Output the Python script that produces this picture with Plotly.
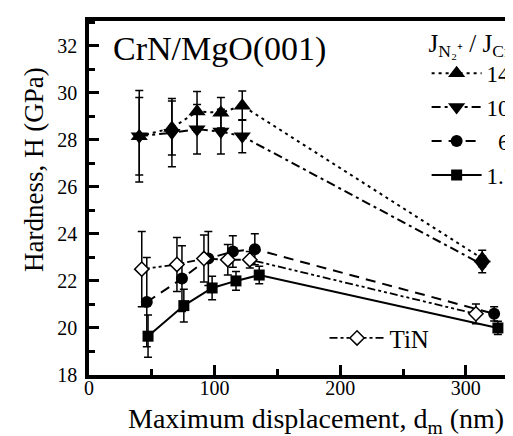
import plotly.graph_objects as go

# ---- data ----
x14 = [40, 66, 86, 105, 122, 313]
y14 = [28.15, 28.5, 29.2, 29.15, 29.45, 22.95]
e14 = [1.95, 1.15, 0.85, 0.65, 0.62, 0.35]

x10 = [40, 66, 86, 105, 122, 313]
y10 = [28.15, 28.3, 28.45, 28.35, 28.15, 22.7]
e10 = [1.65, 1.45, 1.05, 0.95, 0.7, 0.35]

x6 = [46, 74, 95, 114.5, 132, 322.5]
y6 = [21.1, 22.1, 22.95, 23.25, 23.35, 20.6]
e6 = [1.9, 1.4, 1.15, 0.67, 0.66, 0.3]

x17 = [47, 75.5, 98, 117, 135.5, 325.5]
y17 = [19.65, 20.95, 21.7, 22.0, 22.25, 20.0]
e17 = [0.9, 0.7, 0.5, 0.4, 0.37, 0.28]

xTiN = [42, 70, 91.5, 110.5, 128, 308]
yTiN = [22.5, 22.7, 22.95, 22.9, 22.9, 20.6]
eTiN = [1.6, 1.15, 1.0, 0.65, 0.35, 0.42]

names = ["14", "10", "\u20076", "1.7"]
x_ticks = [0, 100, 200, 300]
y_ticks = [18, 20, 22, 24, 26, 28, 30, 32]

FONT = "Liberation Serif, Times New Roman, serif"

def err(v):
    return dict(type="data", array=v, visible=True, color="black", thickness=1.5, width=4)

fig = go.Figure()
fig.add_trace(go.Scatter(x=x14, y=y14, error_y=err(e14), mode="lines+markers", name=names[0],
                         legendgroup="a", legend="legend",
                         line=dict(color="black", width=2, dash="3px,4px"),
                         marker=dict(symbol="triangle-up", size=15, color="black")))
fig.add_trace(go.Scatter(x=x10, y=y10, error_y=err(e10), mode="lines+markers", name=names[1],
                         legendgroup="b", legend="legend",
                         line=dict(color="black", width=2, dash="9px,4px,3px,4px"),
                         marker=dict(symbol="triangle-down", size=15, color="black")))
fig.add_trace(go.Scatter(x=x6, y=y6, error_y=err(e6), mode="lines+markers", name=names[2],
                         legendgroup="c", legend="legend",
                         line=dict(color="black", width=2, dash="10px,7px"),
                         marker=dict(symbol="circle", size=12, color="black")))
fig.add_trace(go.Scatter(x=x17, y=y17, error_y=err(e17), mode="lines+markers", name=names[3],
                         legendgroup="d", legend="legend",
                         line=dict(color="black", width=2),
                         marker=dict(symbol="square", size=11, color="black")))
fig.add_trace(go.Scatter(x=xTiN, y=yTiN, error_y=err(eTiN), mode="lines+markers", name="TiN",
                         legend="legend2",
                         line=dict(color="black", width=1.8, dash="8px,3px,3px,3px,3px,3px"),
                         marker=dict(symbol="diamond", size=11, color="white",
                                     line=dict(color="black", width=1.5))))

axis_common = dict(
    showline=True, linecolor="black", linewidth=3.5, zeroline=False, showgrid=False,
    ticks="inside", ticklen=10, tickwidth=3, tickcolor="black",
    tickfont=dict(family=FONT, size=20, color="black"),
)

fig.update_layout(
    width=513, height=436,
    margin=dict(l=81, r=0, t=13, b=69),
    paper_bgcolor="white", plot_bgcolor="white",
    font=dict(family=FONT, color="black"),
    xaxis=dict(range=[0, 341.5], tickvals=x_ticks, mirror=True,
               minor=dict(dtick=50, ticks="inside", ticklen=6, tickwidth=3, tickcolor="black"),
               ticklabelstandoff=-8, **axis_common),
    yaxis=dict(range=[18, 33.05], tickvals=y_ticks,
               minor=dict(dtick=1, ticks="inside", ticklen=6, tickwidth=3, tickcolor="black"),
               ticklabelstandoff=4, **axis_common),
    legend=dict(x=0.787, y=1.005, xanchor="left", yanchor="top",
                bgcolor="rgba(0,0,0,0)", font=dict(family=FONT, size=23),
                traceorder="grouped", tracegroupgap=1, itemwidth=50,
                title=dict(text="J<sub>N\u2082\u207A</sub> / J<sub>Cr</sub>",
                           font=dict(family=FONT, size=25), side="top")),
    legend2=dict(x=0.549, y=0.104, xanchor="left", yanchor="middle",
                 bgcolor="rgba(0,0,0,0)", font=dict(family=FONT, size=25), itemwidth=55),
    showlegend=True,
    annotations=[
        dict(text="CrN/MgO(001)", xref="paper", yref="paper", x=0.051, y=0.921,
             xanchor="left", yanchor="middle", showarrow=False,
             font=dict(family=FONT, size=34, color="black")),
        dict(text="Maximum displacement, d<sub>m</sub> (nm)", xref="paper", yref="paper",
             x=0.53, y=-0.128, xanchor="center", yanchor="middle", showarrow=False,
             font=dict(family=FONT, size=28, color="black")),
        dict(text="Hardness, H (GPa)", xref="paper", yref="paper", textangle=-90,
             x=-0.13, y=0.58, xanchor="center", yanchor="middle", showarrow=False,
             font=dict(family=FONT, size=27, color="black")),
    ],
)

fig.write_html("out.html")
